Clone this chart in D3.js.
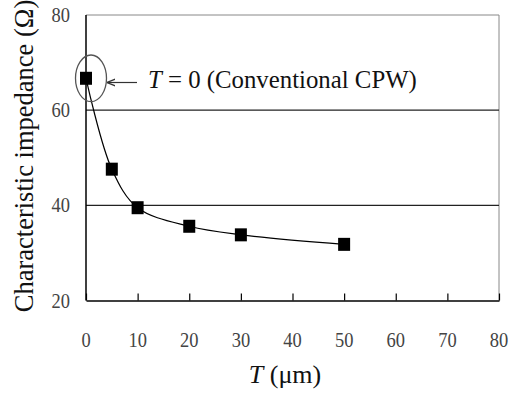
<!DOCTYPE html>
<html>
<head>
<meta charset="utf-8">
<script src="https://cdn.jsdelivr.net/npm/d3@7"></script>
<style>
  body { margin: 0; background: #fff; }
  svg text { font-family: "Liberation Serif", serif; }
</style>
</head>
<body>
<svg id="chart" width="516" height="397" style="font-family: 'Liberation Serif', serif"></svg>
<script>
// data
var thickness = [0, 5, 10, 20, 30, 50];          // T (um)
var impedance = [66.7, 47.6, 39.5, 35.6, 33.8, 31.8]; // ohm
var xTicks = [0, 10, 20, 30, 40, 50, 60, 70, 80];
var yTicks = [20, 40, 60, 80];
var gridValues = [40, 60];

var svg = d3.select("#chart");

var x = d3.scaleLinear().domain([0, 80]).range([86, 499]);
var y = d3.scaleLinear().domain([20, 80]).range([300.5, 15]);

// plot frame: top and right grey, left and bottom black
svg.append("line").attr("x1", x(0)).attr("x2", x(80)).attr("y1", y(80)).attr("y2", y(80))
    .attr("stroke", "#888").attr("stroke-width", 1);
svg.append("line").attr("x1", x(80)).attr("x2", x(80)).attr("y1", y(80)).attr("y2", y(20))
    .attr("stroke", "#888").attr("stroke-width", 1);

// horizontal grid lines
svg.selectAll("line.grid")
    .data(gridValues)
    .enter().append("line")
    .attr("class", "grid")
    .attr("x1", x(0)).attr("x2", x(80))
    .attr("y1", function(d) { return y(d); })
    .attr("y2", function(d) { return y(d); })
    .attr("stroke", "#222").attr("stroke-width", 1.2);

// x axis, ticks pointing up into the plot
var xAxis = svg.append("g")
    .attr("transform", "translate(0," + y(20) + ")")
    .call(d3.axisTop(x).tickValues(xTicks).tickSizeInner(7).tickSizeOuter(0).tickFormat(""));
xAxis.select(".domain").attr("stroke", "#000").attr("stroke-width", 1.5);
xAxis.selectAll(".tick line").attr("stroke", "#000").attr("stroke-width", 1.2);

// tick labels are tall and narrow in the original
svg.selectAll("text.xlab")
    .data(xTicks)
    .enter().append("text")
    .attr("class", "xlab")
    .attr("transform", function(d) { return "translate(" + x(d) + ",347) scale(0.88,1)"; })
    .attr("text-anchor", "middle")
    .style("font-size", "21px")
    .attr("fill", "#444")
    .text(function(d) { return d; });

// y axis line
svg.append("line").attr("x1", x(0)).attr("x2", x(0)).attr("y1", y(80)).attr("y2", y(20))
    .attr("stroke", "#000").attr("stroke-width", 1.5);

svg.selectAll("text.ylab")
    .data(yTicks)
    .enter().append("text")
    .attr("class", "ylab")
    .attr("transform", function(d) { return "translate(70," + (y(d) + 7) + ") scale(0.88,1)"; })
    .attr("text-anchor", "end")
    .style("font-size", "21px")
    .attr("fill", "#444")
    .text(function(d) { return d; });

// series line
var pts = thickness.map(function(t, i) { return [t, impedance[i]]; });
var line = d3.line()
    .x(function(d) { return x(d[0]); })
    .y(function(d) { return y(d[1]); })
    .curve(d3.curveCatmullRom.alpha(0.5));

svg.append("path")
    .datum(pts)
    .attr("d", line)
    .attr("fill", "none")
    .attr("stroke", "#000")
    .attr("stroke-width", 1.2);

// square markers
svg.selectAll("rect.mark")
    .data(pts)
    .enter().append("rect")
    .attr("class", "mark")
    .attr("x", function(d) { return x(d[0]) - 6; })
    .attr("y", function(d) { return y(d[1]) - 6.5; })
    .attr("width", 12)
    .attr("height", 13)
    .attr("fill", "#000");

// annotation: ellipse around T = 0 point plus arrow
svg.append("ellipse")
    .attr("cx", x(thickness[0]) + 5)
    .attr("cy", y(impedance[0]))
    .attr("rx", 15.5)
    .attr("ry", 23.3)
    .attr("fill", "none")
    .attr("stroke", "#555")
    .attr("stroke-width", 1.3);

svg.append("defs").append("marker")
    .attr("id", "arrow")
    .attr("viewBox", "0 0 10 10")
    .attr("refX", 10).attr("refY", 5)
    .attr("markerWidth", 7).attr("markerHeight", 7)
    .attr("orient", "auto")
    .append("path")
    .attr("d", "M0,1 L10,5 L0,9")
    .attr("fill", "none")
    .attr("stroke", "#333")
    .attr("stroke-width", 1.5);

svg.append("line")
    .attr("x1", 137).attr("y1", 82.5)
    .attr("x2", 107).attr("y2", 82.5)
    .attr("stroke", "#333").attr("stroke-width", 1.2)
    .attr("marker-end", "url(#arrow)");

var note = svg.append("text")
    .attr("x", 148).attr("y", 88)
    .style("font-size", "24.8px")
    .attr("fill", "#111");
note.append("tspan").attr("font-style", "italic").text("T");
note.append("tspan").text(" = 0 (Conventional CPW)");

// axis titles
var xt = svg.append("text")
    .attr("x", 285).attr("y", 383)
    .attr("text-anchor", "middle")
    .style("font-size", "26px")
    .attr("fill", "#111");
xt.append("tspan").attr("font-style", "italic").text("T");
xt.append("tspan").text(" (\u03bcm)");

svg.append("text")
    .attr("transform", "translate(33,156) rotate(-90)")
    .attr("text-anchor", "middle")
    .style("font-size", "26.5px")
    .attr("fill", "#111")
    .text("Characteristic impedance (\u03a9)");
</script>
</body>
</html>
